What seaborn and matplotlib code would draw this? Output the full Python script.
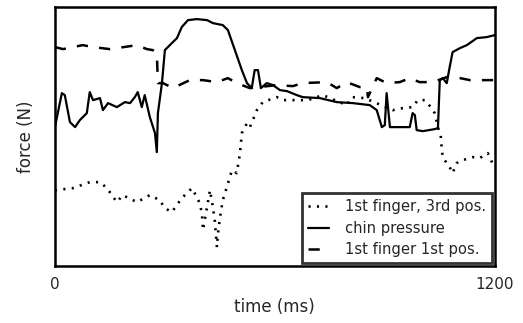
import numpy as np
import pandas as pd
import matplotlib.pyplot as plt
import seaborn as sns

# Values (force in arbitrary units, no y scale shown)
chin_t = [0, 19, 27, 41, 55, 68, 87, 95, 104, 123, 131, 145, 169, 191, 205, 218, 226, 237, 245, 259,
          273, 278, 281, 292, 300, 319, 333, 346, 363, 387, 415, 431, 458, 472, 491, 510, 524, 537,
          545, 554, 562, 578, 595, 614, 633, 660, 676, 723, 769, 813, 859, 878, 892, 900, 905, 914,
          949, 968, 976, 982, 987, 1004, 1036, 1045, 1050, 1058, 1069, 1077, 1085, 1105, 1124, 1151,
          1178, 1200]
chin_f = [139, 173, 171, 144, 139, 146, 153, 174, 166, 168, 156, 163, 159, 164, 163, 169, 174, 159,
          171, 149, 133, 114, 153, 183, 216, 223, 228, 239, 246, 247, 246, 243, 241, 236, 216, 196,
          183, 178, 196, 196, 178, 183, 181, 176, 175, 171, 169, 168, 164, 163, 161, 156, 139, 141,
          173, 139, 139, 139, 153, 151, 136, 135, 137, 138, 186, 188, 183, 199, 214, 218, 221, 228,
          229, 231]

f1_t = [0, 22, 76, 104, 150, 169, 224, 251, 267, 278, 281, 295, 322, 368, 404, 442, 472, 496, 532,
        605, 649, 676, 742, 769, 796, 832, 851, 854, 878, 905, 941, 968, 995, 1031, 1069, 1105, 1132,
        1178, 1200]
f1_f = [219, 217, 221, 219, 217, 218, 221, 217, 216, 213, 183, 183, 178, 186, 186, 184, 188, 183, 178,
        181, 180, 183, 184, 178, 184, 179, 179, 169, 188, 183, 184, 188, 184, 184, 189, 188, 186,
        186, 186]

f3_t = [0, 49, 95, 123, 142, 169, 185, 224, 259, 286, 300, 319, 346, 374, 387, 395, 401, 404, 415,
        423, 431, 436, 442, 445, 450, 458, 469, 483, 496, 505, 510, 524, 532, 540, 551, 567, 605,
        622, 668, 690, 731, 796, 810, 845, 922, 949, 976, 990, 1009, 1028, 1036, 1045, 1053, 1055,
        1058, 1069, 1077, 1085, 1096, 1113, 1140, 1159, 1181, 1200]
f3_f = [76, 78, 84, 84, 78, 64, 71, 64, 71, 66, 58, 54, 68, 78, 69, 63, 53, 36, 59, 76, 59, 46, 19,
        33, 48, 66, 79, 96, 93, 113, 133, 143, 139, 146, 156, 164, 169, 166, 166, 166, 171, 161, 169,
        168, 156, 158, 159, 166, 166, 158, 153, 139, 129, 119, 109, 103, 99, 93, 103, 106, 109, 108,
        113, 98]

sns.set_style("white")
plt.rcParams['font.family'] = ['DejaVu Sans']

fig = plt.figure(figsize=(5.23, 3.23), dpi=100)
ax = fig.add_axes([0.105, 0.176, 0.841, 0.802])

sns.lineplot(x=f3_t, y=f3_f, ax=ax, color='k', linestyle=(0, (0.8, 2.4)), linewidth=1.9,
             label='1st finger, 3rd pos.', sort=False)
sns.lineplot(x=chin_t, y=chin_f, ax=ax, color='k', linestyle='-', linewidth=1.6,
             label='chin pressure', sort=False)
sns.lineplot(x=f1_t, y=f1_f, ax=ax, color='k', linestyle=(0, (4.5, 4.5)), linewidth=1.8,
             label='1st finger 1st pos.', sort=False)

ax.set_xlim(0, 1200)
ax.set_ylim(0, 259)
ax.set_xticks([0, 1200])
ax.set_yticks([])
ax.tick_params(axis='x', length=0, labelsize=11, pad=8)
ax.set_xlabel('time (ms)', fontsize=12)
ax.set_ylabel('force (N)', fontsize=12, labelpad=14)
for s in ax.spines.values():
    s.set_color('k')
    s.set_linewidth(1.8)

leg = ax.legend(loc='lower right', fontsize=10.6, fancybox=False, frameon=True,
                handlelength=1.4, handletextpad=1.1, borderaxespad=0.2, labelspacing=0.45)
leg.get_frame().set_edgecolor('k')
leg.get_frame().set_linewidth(2)

plt.savefig('out.png', dpi=100)
